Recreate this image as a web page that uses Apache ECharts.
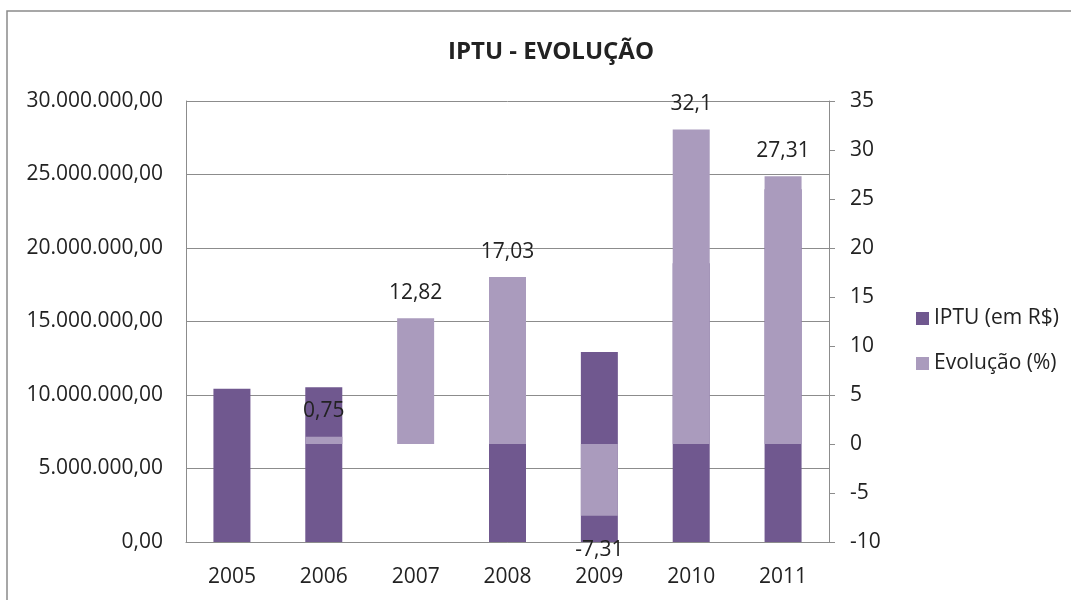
<!DOCTYPE html>
<html>
<head>
<meta charset="utf-8">
<script src="https://cdn.jsdelivr.net/npm/echarts@6/dist/echarts.min.js"></script>
<style>
    html, body { margin: 0; padding: 0; background: #fff; }
    #chart { width: 1071px; height: 600px; }
</style>
</head>
<body>
<div id="chart"></div>
<script>
const anos = ['2005', '2006', '2007', '2008', '2009', '2010', '2011']
// IPTU em R$ (2007 sem barra visível; 2008, 2010 e 2011 parcialmente cobertos)
const iptu = [10430000, 10520000, null, 13940000, 12920000, 18970000, 24000000]
const evolucao = [null, 0.75, 12.82, 17.03, -7.31, 32.1, 27.31]

const FONT = '"Open Sans", sans-serif'
const TEXT = '#222'
const GRID = '#8c8c8c'

const fmtReais = (v) => {
    const parts = Math.round(v).toString().replace(/\B(?=(\d{3})+(?!\d))/g, '.')
    return parts + ',00'
}

const myChart = echarts.init(document.getElementById('chart'))

const option = {
    animation: false,
    textStyle: { fontFamily: FONT },
    graphic: [
        {
            type: 'rect',
            z: -10,
            shape: { x: 7, y: 11, width: 1100, height: 700 },
            style: { fill: 'none', stroke: '#8a8a8a', lineWidth: 1.5 }
        }
    ],
    title: {
        text: 'IPTU - EVOLUÇÃO',
        left: 546,
        top: 35,
        textAlign: 'center',
        textStyle: { fontFamily: FONT, fontSize: 24, fontWeight: 'bold', color: TEXT }
    },
    legend: {
        orient: 'vertical',
        left: 911,
        top: 303,
        itemWidth: 13,
        itemHeight: 13,
        itemGap: 24,
        icon: 'rect',
        textStyle: { fontFamily: FONT, fontSize: 21, color: TEXT },
        data: ['IPTU (em R$)', 'Evolução (%)']
    },
    grid: { left: 186, right: 242, top: 101, bottom: 58 },
    xAxis: {
        type: 'category',
        data: anos,
        axisLine: { lineStyle: { color: GRID, width: 1 } },
        axisTick: { show: false },
        axisLabel: { fontFamily: FONT, fontSize: 21, color: TEXT, margin: 25 }
    },
    yAxis: [
        {
            type: 'value',
            min: 0,
            max: 30000000,
            interval: 5000000,
            axisLine: { show: true, lineStyle: { color: GRID, width: 1 } },
            axisTick: { show: false },
            splitLine: { lineStyle: { color: GRID, width: 1 } },
            axisLabel: { fontFamily: FONT, fontSize: 21, color: TEXT, margin: 23, formatter: fmtReais }
        },
        {
            type: 'value',
            min: -10,
            max: 35,
            interval: 5,
            position: 'right',
            axisLine: { show: true, lineStyle: { color: GRID, width: 1 } },
            axisTick: { show: true, length: 6, lineStyle: { color: GRID } },
            splitLine: { show: false },
            axisLabel: { fontFamily: FONT, fontSize: 21, color: TEXT, margin: 21 }
        }
    ],
    series: [
        {
            name: 'IPTU (em R$)',
            type: 'bar',
            yAxisIndex: 0,
            barWidth: 37,
            barGap: '-100%',
            itemStyle: { color: '#70588f' },
            data: iptu
        },
        {
            name: 'Evolução (%)',
            type: 'bar',
            yAxisIndex: 1,
            barWidth: 37,
            itemStyle: { color: '#aa9bbd' },
            label: {
                show: true,
                fontFamily: FONT,
                fontSize: 21,
                color: TEXT,
                formatter: (p) => String(p.value).replace('.', ',')
            },
            data: evolucao.map(v => v === null ? null : {
                value: v,
                label: v < 0 ? { position: 'bottom', distance: 24 } : { position: 'top', distance: 15 }
            })
        }
    ]
}

myChart.setOption(option)
</script>
</body>
</html>
